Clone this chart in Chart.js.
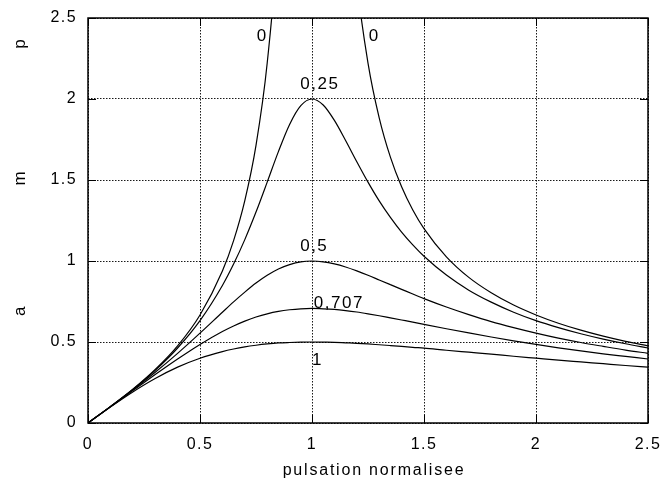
<!DOCTYPE html>
<html>
<head>
<meta charset="utf-8">
<script src="https://cdn.jsdelivr.net/npm/chart.js@4"></script>
<style>
  body { margin: 0; background: #fff; }
</style>
</head>
<body>
<canvas id="amp" width="663" height="482"></canvas>
<script>
// normalised pulsation (x axis)
const pulsation = [0, 0.1, 0.2, 0.3, 0.4, 0.5, 0.6, 0.65, 0.7, 0.75, 0.8, 0.85, 0.9, 0.95, 1,
  1.05, 1.1, 1.15, 1.2, 1.25, 1.3, 1.35, 1.4, 1.45, 1.5, 1.6, 1.7, 1.8, 1.9, 2.0,
  2.1, 2.2, 2.3, 2.4, 2.5];

// amplitude (damping 0, 0.25, 0.5, 0.707, 1)
const amp0 = [0, 0.101, 0.208, 0.330, 0.476, 0.667, 0.938, 1.126, 1.373, 1.714, 2.222, 3.063, 4.737, 9.744, null,
  10.244, 5.238, 3.566, 2.727, 2.222, 1.884, 1.641, 1.458, 1.315, 1.200, 1.026, 0.899, 0.804, 0.728, 0.667,
  0.616, 0.573, 0.536, 0.504, 0.476];
const amp025 = [0, 0.101, 0.207, 0.325, 0.463, 0.632, 0.849, 0.981, 1.132, 1.302, 1.487, 1.675, 1.843, 1.959, 2.000,
  1.963, 1.868, 1.744, 1.613, 1.487, 1.371, 1.269, 1.178, 1.099, 1.029, 0.913, 0.820, 0.746, 0.684, 0.632,
  0.589, 0.551, 0.518, 0.489, 0.463];
const amp05 = [0, 0.101, 0.204, 0.313, 0.430, 0.555, 0.684, 0.748, 0.808, 0.864, 0.912, 0.951, 0.978, 0.995, 1.000,
  0.995, 0.982, 0.963, 0.939, 0.912, 0.883, 0.854, 0.825, 0.796, 0.768, 0.716, 0.669, 0.626, 0.589, 0.555,
  0.524, 0.497, 0.473, 0.450, 0.430];
const amp0707 = [0, 0.100, 0.200, 0.299, 0.395, 0.485, 0.565, 0.599, 0.629, 0.654, 0.674, 0.689, 0.699, 0.705, 0.707,
  0.705, 0.701, 0.694, 0.685, 0.674, 0.662, 0.649, 0.636, 0.623, 0.609, 0.582, 0.556, 0.531, 0.507, 0.485,
  0.464, 0.445, 0.427, 0.411, 0.395];
const amp1 = [0, 0.099, 0.192, 0.275, 0.345, 0.400, 0.441, 0.457, 0.470, 0.480, 0.488, 0.494, 0.497, 0.499, 0.500,
  0.499, 0.498, 0.495, 0.492, 0.488, 0.483, 0.478, 0.473, 0.467, 0.462, 0.449, 0.437, 0.425, 0.412, 0.400,
  0.388, 0.377, 0.366, 0.355, 0.345];

const series = [amp0, amp025, amp05, amp0707, amp1];

// curve labels and where they sit (data units)
const curveLabels = ['0', '0', '0,25', '0,5', '0,707', '1'];
const curveLabelX = [0.778, 1.278, 1.035, 1.01, 1.12, 1.025];
const curveLabelY = [2.39, 2.39, 2.09, 1.09, 0.74, 0.39];

// vertical axis title, one letter at a time
const yLetters = ['a', 'm', 'p'];
const yLetterPos = [0.69, 1.51, 2.34];
const xTitle = 'pulsation normalisee';

const FONT = 'Liberation Sans, Arial, Helvetica, sans-serif';

const gnuplotStyle = {
  id: 'gnuplotStyle',
  beforeDraw(chart) {
    chart.ctx.letterSpacing = '1.4px';
  },
  afterDraw(chart) {
    const { ctx, chartArea: a, scales } = chart;
    ctx.save();
    ctx.strokeStyle = '#000';
    // short ticks inside the frame
    ctx.lineWidth = 1;
    ctx.beginPath();
    scales.x.ticks.forEach(t => {
      const px = Math.round(scales.x.getPixelForValue(t.value)) + 0.5;
      ctx.moveTo(px, a.bottom); ctx.lineTo(px, a.bottom - 8);
      ctx.moveTo(px, a.top); ctx.lineTo(px, a.top + 8);
    });
    scales.y.ticks.forEach(t => {
      const py = Math.round(scales.y.getPixelForValue(t.value)) + 0.5;
      ctx.moveTo(a.left, py); ctx.lineTo(a.left + 8, py);
      ctx.moveTo(a.right, py); ctx.lineTo(a.right - 8, py);
    });
    ctx.stroke();
    // frame
    ctx.lineWidth = 1.5;
    ctx.strokeRect(a.left, a.top, a.right - a.left, a.bottom - a.top);

    ctx.fillStyle = '#000';
    ctx.textAlign = 'center';
    ctx.textBaseline = 'middle';

    // x axis title, sits a bit right of the plot centre
    ctx.font = '16px ' + FONT;
    ctx.letterSpacing = '1.8px';
    ctx.fillText(xTitle, (a.left + a.right) / 2 + 6, 471);

    // curve labels
    ctx.font = '17px ' + FONT;
    ctx.letterSpacing = '1.5px';
    curveLabels.forEach((txt, i) => {
      ctx.fillText(txt, scales.x.getPixelForValue(curveLabelX[i]), scales.y.getPixelForValue(curveLabelY[i]));
    });

    // rotated letters on the left
    ctx.font = '17px ' + FONT;
    ctx.letterSpacing = '0px';
    yLetters.forEach((l, i) => {
      ctx.save();
      ctx.translate(20, scales.y.getPixelForValue(yLetterPos[i]));
      ctx.rotate(-Math.PI / 2);
      ctx.fillText(l, 0, 0);
      ctx.restore();
    });
    ctx.restore();
  }
};

const gridStyle = {
  color: 'rgba(0,0,0,0.9)',
  lineWidth: 1,
  drawTicks: false
};

new Chart(document.getElementById('amp'), {
  type: 'line',
  data: {
    datasets: series.map((vals, i) => ({
      label: 'c' + i,
      data: pulsation.map((x, j) => ({ x: x, y: vals[j] })),
      borderColor: '#000',
      borderWidth: 1.2,
      pointRadius: 0,
      fill: false,
      cubicInterpolationMode: 'monotone',
      spanGaps: false
    }))
  },
  options: {
    responsive: false,
    animation: false,
    devicePixelRatio: 1,
    layout: { padding: { top: 18, right: 15, left: 0, bottom: 0 } },
    plugins: { legend: { display: false }, tooltip: { enabled: false } },
    scales: {
      x: {
        type: 'linear',
        min: 0,
        max: 2.5,
        afterFit(s) { s.height = 59; s.paddingLeft = 0; s.paddingRight = 0; },
        border: { display: false, dash: [1.5, 1.5] },
        grid: gridStyle,
        ticks: {
          stepSize: 0.5,
          padding: 12,
          color: '#000',
          font: { family: FONT, size: 16 },
          callback: v => String(+v.toFixed(2))
        }
      },
      y: {
        min: 0,
        max: 2.5,
        afterFit(s) { s.width = 88; s.paddingTop = 0; s.paddingBottom = 0; },
        border: { display: false, dash: [1.5, 1.5] },
        grid: gridStyle,
        ticks: {
          stepSize: 0.5,
          padding: 11,
          color: '#000',
          font: { family: FONT, size: 16 },
          callback: v => String(+v.toFixed(2))
        }
      }
    }
  },
  plugins: [gnuplotStyle]
});
</script>
</body>
</html>
